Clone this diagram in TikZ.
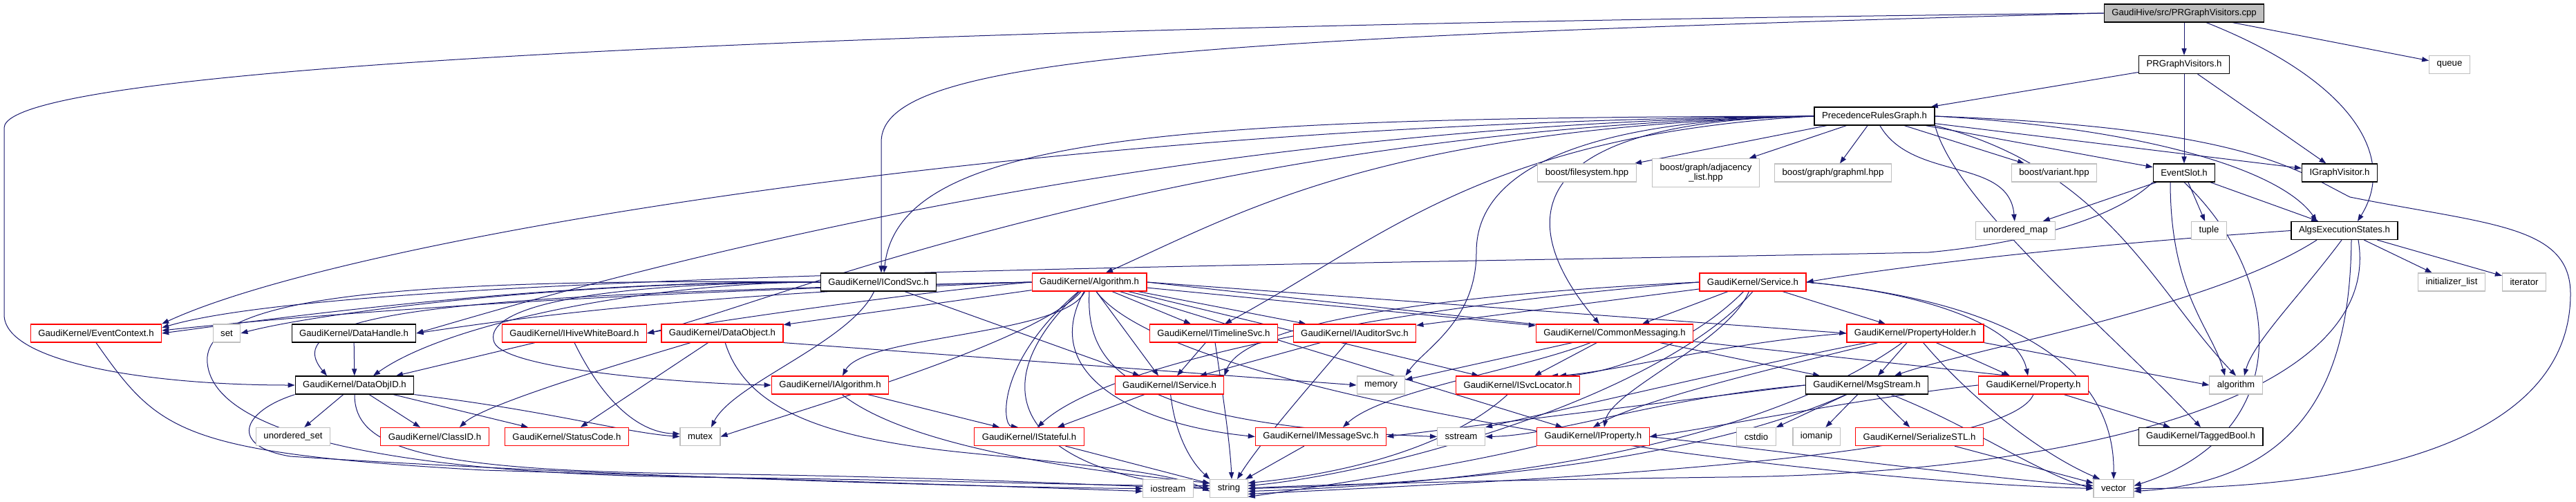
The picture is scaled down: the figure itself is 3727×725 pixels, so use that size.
\documentclass[tikz,border=0pt]{standalone}
\usepackage{fontspec}
\newfontfamily\gf{Liberation Sans}
\usetikzlibrary{arrows.meta,backgrounds}
\definecolor{edgeblue}{HTML}{191970}
\definecolor{extgray}{HTML}{BFBFBF}
\definecolor{mainfill}{HTML}{BFBFBF}
\definecolor{truncred}{HTML}{FF0000}
\tikzset{
 gbox/.style={draw, line width=0.6pt, minimum height=13pt, inner xsep=5.5pt, inner ysep=0pt, font=\gf\fontsize{6.6}{6.6}\selectfont, fill=white, align=center},
 docnode/.style={gbox, draw=black},
 trunc/.style={gbox, draw=truncred},
 extnode/.style={gbox, draw=extgray},
 mainnode/.style={gbox, draw=black, fill=mainfill},
 dep/.style={draw=edgeblue, line width=0.5pt, -{Triangle[length=5pt,width=3.6pt]}},
}
\begin{document}
\begin{tikzpicture}[x=0.5pt,y=0.5pt]
\useasboundingbox (0,0) rectangle (3727,725);
% rank 0-2
\node[mainnode] (cpp) at (3160,706) {GaudiHive/src/PRGraphVisitors.cpp};
\node[docnode] (prgvh) at (3160,631.5) {PRGraphVisitors.h};
\node[extnode] (queue) at (3544,631.5) {queue};
\node[docnode] (prg) at (2712,557) {PrecedenceRulesGraph.h};
% rank 3
\node[extnode] (bfs) at (2296,475) {boost/filesystem.hpp};
\node[extnode, minimum height=20.5pt] (badj) at (2468,475) {boost/graph/adjacency\\\_list.hpp};
\node[extnode] (bgml) at (2652,475) {boost/graph/graphml.hpp};
\node[extnode] (bvar) at (2972,475) {boost/variant.hpp};
\node[docnode] (evslot) at (3160,475) {EventSlot.h};
\node[docnode] (igv) at (3385,475) {IGraphVisitor.h};
% rank 4
\node[extnode] (umap) at (2916,391.5) {unordered\_map};
\node[extnode] (tuple) at (3196,391.5) {tuple};
\node[docnode] (aes) at (3392,391.5) {AlgsExecutionStates.h};
% rank 5
\node[docnode] (icond) at (1271,317) {GaudiKernel/ICondSvc.h};
\node[trunc] (algo) at (1576,317) {GaudiKernel/Algorithm.h};
\node[trunc] (svc) at (2536,317) {GaudiKernel/Service.h};
\node[extnode] (initl) at (3547,317) {initializer\_list};
\node[extnode] (iter) at (3652,317) {iterator};
% rank 6
\node[trunc] (evctx) at (139,243) {GaudiKernel/EventContext.h};
\node[extnode] (set) at (328,243) {set};
\node[docnode] (dhandle) at (512,243) {GaudiKernel/DataHandle.h};
\node[trunc] (ihwb) at (831,243) {GaudiKernel/IHiveWhiteBoard.h};
\node[trunc] (dobj) at (1045,243) {GaudiKernel/DataObject.h};
\node[trunc] (itl) at (1756,243) {GaudiKernel/ITimelineSvc.h};
\node[trunc] (iaud) at (1960,243) {GaudiKernel/IAuditorSvc.h};
\node[trunc] (cmsg) at (2336,243) {GaudiKernel/CommonMessaging.h};
\node[trunc] (pholder) at (2771,243) {GaudiKernel/PropertyHolder.h};
% rank 7
\node[docnode] (doid) at (513,168) {GaudiKernel/DataObjID.h};
\node[trunc] (ialg) at (1201,168) {GaudiKernel/IAlgorithm.h};
\node[trunc] (isvc) at (1692,168) {GaudiKernel/IService.h};
\node[extnode] (memory) at (1998,168) {memory};
\node[trunc] (isl) at (2196,168) {GaudiKernel/ISvcLocator.h};
\node[docnode] (msgs) at (2701,168) {GaudiKernel/MsgStream.h};
\node[trunc] (prop) at (2942,168) {GaudiKernel/Property.h};
\node[extnode] (algm) at (3235,168) {algorithm};
% rank 8
\node[extnode] (uset) at (424,93.5) {unordered\_set};
\node[trunc] (classid) at (629,93.5) {GaudiKernel/ClassID.h};
\node[trunc] (stcode) at (820,93.5) {GaudiKernel/StatusCode.h};
\node[extnode] (mutex) at (1013,93.5) {mutex};
\node[trunc] (istate) at (1489,93.5) {GaudiKernel/IStateful.h};
\node[trunc] (imsg) at (1911,93.5) {GaudiKernel/IMessageSvc.h};
\node[extnode] (sstream) at (2114,93.5) {sstream};
\node[trunc] (iprop) at (2305,93.5) {GaudiKernel/IProperty.h};
\node[extnode] (cstdio) at (2541,93.5) {cstdio};
\node[extnode] (iomanip) at (2628,93.5) {iomanip};
\node[trunc] (sstl) at (2777,93.5) {GaudiKernel/SerializeSTL.h};
\node[docnode] (tbool) at (3184,93.5) {GaudiKernel/TaggedBool.h};
% rank 9
\node[extnode] (iostream) at (1690,18.5) {iostream};
\node[extnode] (string) at (1778,18.5) {string};
\node[extnode] (vector) at (3058,18.5) {vector};

\begin{scope}[on background layer]
\fill[white] (0,0) rectangle (3727,725);
% cpp
\draw[dep] (cpp) -- (prgvh);
\draw[dep] (cpp) -- (queue);
\draw[dep] ([xshift=16pt]cpp.south) .. controls (3400,610) and (3470,500) .. ([xshift=9.5pt]aes.north);
\draw[dep] (cpp.west) .. controls (1500,690) and (6,640) .. (6,540) -- (6,270) .. controls (6,200) and (220,168) .. (doid.west);
\draw[dep] (cpp.west) .. controls (1700,670) and (1275,640) .. (1275,520) -- ([xshift=2pt]icond.north);
% prgvh
\draw[dep] (prgvh) -- (prg);
\draw[dep] (prgvh) -- (evslot);
\draw[dep] (prgvh) -- (igv);
% prg
\draw[dep] (prg) -- (bfs);
\draw[dep] (prg) -- (badj);
\draw[dep] (prg) -- (bgml);
\draw[dep] (prg) -- (bvar);
\draw[dep] (prg) -- (evslot);
\draw[dep] (prg) -- (igv);
\draw[dep] (prg) to[out=-60,in=95] (umap);
\draw[dep] (prg.east) .. controls (3100,540) and (3300,480) .. ([xshift=-20pt]aes.north);
\draw[dep] (prg.south east) .. controls (3050,480) and (3120,300) .. (algm.north);
\draw[dep] (prg.south east) .. controls (2830,430) and (3050,250) .. (tbool.north);
\draw[dep] (prg.east) .. controls (3250,540) and (3320,480) .. (3400,440) .. controls (3600,400) and (3719,400) .. (3719,300) .. controls (3719,80) and (3400,18) .. (vector.east);
\draw[dep] (prg.west) .. controls (1700,555) and (1300,530) .. ([xshift=4pt]icond.north);
\draw[dep] (prg.west) .. controls (2000,540) and (1800,420) .. ([xshift=12pt]algo.north);
\draw[dep] (prg.west) .. controls (2150,530) and (2000,380) .. ([xshift=8pt]itl.north);
\draw[dep] (prg.west) .. controls (2190,550) and (2193,400) .. ([xshift=-11pt]cmsg.north);
\draw[dep] (prg.west) .. controls (2170,550) and (2136,420) .. (2136,360) .. controls (2136,260) and (2060,220) .. (memory.north east);
\draw[dep] (prg.west) .. controls (1500,548) and (500,380) .. (evctx.north east);
\draw[dep] (prg.west) .. controls (1600,545) and (800,300) .. (dhandle.east);
\draw[dep] (prg.west) .. controls (1700,540) and (1100,280) .. (ihwb.east);
% evslot
\draw[dep] (evslot) -- (umap);
\draw[dep] (evslot) -- (tuple);
\draw[dep] (evslot) -- (aes);
\draw[dep] (evslot.south west) .. controls (3050,400) and (2900,370) .. (2790,360) .. controls (1800,340) and (500,330) .. ([yshift=4pt]evctx.east);
\draw[dep] (evslot.south) .. controls (3300,330) and (3330,100) .. ([yshift=2pt]vector.east);
\draw[dep] ([xshift=-10pt]evslot.south) .. controls (3140,300) and (3200,250) .. ([xshift=-8pt]algm.north);
% aes
\draw[dep] (aes) -- (initl);
\draw[dep] (aes) -- (iter);
\draw[dep] (aes.west) .. controls (3000,370) and (2750,340) .. (svc.east);
\draw[dep] ([xshift=-20pt]aes.south) .. controls (3200,280) and (2850,220) .. ([xshift=20pt]msgs.north);
\draw[dep] ([xshift=-2pt]aes.south) .. controls (3330,300) and (3260,230) .. ([xshift=6pt]algm.north);
\draw[dep] ([xshift=5pt]aes.south) .. controls (3400,200) and (3350,30) .. ([yshift=-2pt]vector.east);
\draw[dep] ([xshift=10pt]aes.south) .. controls (3450,150) and (3000,40) .. (2500,35) .. controls (2100,30) and (1850,22) .. (string.east);
% icond
\draw[dep] (icond.west) .. controls (800,320) and (400,265) .. (evctx.east);
\draw[dep] (icond.west) .. controls (800,318) and (450,270) .. (set.east);
\draw[dep] (icond.west) .. controls (950,317) and (650,260) .. ([xshift=13.5pt]doid.north);
\draw[dep] (icond.west) .. controls (800,315) and (700,270) .. (715,230) .. controls (730,190) and (1000,170) .. (ialg.west);
\draw[dep] (icond) -- ([xshift=-21.5pt]isvc.north);
\draw[dep] (icond) .. controls (1230,230) and (1060,170) .. ([xshift=8pt]mutex.north);
\draw[dep] (icond.west) .. controls (600,322) and (290,300) .. (300,200) .. controls (310,90) and (600,40) .. (1000,35) .. controls (1400,30) and (1600,22) .. ([yshift=2pt]string.west);
% algo
\draw[dep] (algo.west) .. controls (900,305) and (450,270) .. ([yshift=2pt]evctx.east);
\draw[dep] (algo.west) .. controls (1000,300) and (750,265) .. (dhandle.east);
\draw[dep] (algo.west) .. controls (1300,300) and (1000,255) .. (ihwb.east);
\draw[dep] (algo) -- (dobj);
\draw[dep] (algo.west) .. controls (700,300) and (390,280) .. ([xshift=-20pt]doid.north);
\draw[dep] (algo) .. controls (1540,240) and (1250,240) .. ([xshift=9pt]ialg.north);
\draw[dep] (algo) -- ([xshift=-8pt]isvc.north);
\draw[dep] (algo) -- (itl);
\draw[dep] (algo) -- (iaud);
\draw[dep] (algo) -- (cmsg);
\draw[dep] (algo.east) -- (pholder.west);
\draw[dep] (algo.east) -- ([xshift=-18pt]prop.north);
\draw[dep] (algo) -- (iprop);
\draw[dep] (algo) -- (isl);
\draw[dep] (algo) .. controls (1500,180) and (1650,110) .. (imsg.west);
\draw[dep] (algo) .. controls (1500,230) and (1150,130) .. (mutex.east);
\draw[dep] (algo) .. controls (1440,200) and (1450,110) .. ([xshift=-8pt]istate.north);
\draw[dep] (algo.south) .. controls (1571,200) and (1620,110) .. (sstream.west);
\draw[dep] (algo) .. controls (1400,150) and (1500,40) .. (string.west);
\draw[dep] (algo) .. controls (1700,150) and (2600,30) .. (vector.west);
% svc
\draw[dep] (svc.west) .. controls (2100,300) and (1800,260) .. (isvc.north east);
\draw[dep] (svc) -- (iaud);
\draw[dep] (svc) -- ([xshift=20pt]cmsg.north);
\draw[dep] (svc) -- (pholder);
\draw[dep] (svc) .. controls (2500,230) and (2330,160) .. ([xshift=8pt]iprop.north);
\draw[dep] (svc.east) .. controls (2800,300) and (2920,250) .. ([xshift=-4pt]prop.north);
\draw[dep] (svc) .. controls (2450,230) and (2330,180) .. ([xshift=24pt]isl.north);
\draw[dep] (svc.west) .. controls (2000,280) and (1600,200) .. ([xshift=6pt]istate.north);
\draw[dep] (svc.east) .. controls (2900,290) and (3060,200) .. (vector.north);
\draw[dep] (svc.south) .. controls (2400,150) and (2000,40) .. ([yshift=2pt]string.east);
% pholder
\draw[dep] (pholder) -- ([xshift=8pt]msgs.north);
\draw[dep] (pholder) -- ([xshift=-17pt]prop.north);
\draw[dep] (pholder) .. controls (2600,200) and (2380,150) .. ([xshift=0pt]iprop.north);
\draw[dep] (pholder.west) .. controls (2500,230) and (2350,190) .. ([xshift=30pt]isl.north);
\draw[dep] (pholder.south east) -- (algm.west);
\draw[dep] (pholder) .. controls (2850,150) and (2950,70) .. ([xshift=-10pt]vector.north);
\draw[dep] (pholder) .. controls (2550,200) and (2250,130) .. (sstream.north east);
\draw[dep] (pholder) .. controls (2600,120) and (2300,30) .. ([yshift=-2pt]string.east);
% msgs
\draw[dep] (msgs.west) -- (imsg.east);
\draw[dep] (msgs.west) .. controls (2400,150) and (2250,95) .. (sstream.east);
\draw[dep] (msgs) -- (cstdio);
\draw[dep] (msgs) -- (iomanip);
\draw[dep] (msgs) -- (sstl);
\draw[dep] (msgs) .. controls (2550,100) and (2300,30) .. (string.east);
\draw[dep] (msgs) .. controls (2850,110) and (2950,40) .. (vector.west);
% prop
\draw[dep] (prop.west) .. controls (2700,150) and (2500,110) .. (iprop.east);
\draw[dep] (prop) -- (tbool);
\draw[dep] (prop.south) .. controls (2900,60) and (2200,30) .. ([yshift=-4pt]string.east);
% cmsg
\draw[dep] (cmsg) .. controls (2200,190) and (2000,160) .. ([xshift=16pt]imsg.north);
\draw[dep] (cmsg) -- (memory);
\draw[dep] (cmsg) -- ([xshift=12pt]isl.north);
\draw[dep] (cmsg) -- ([xshift=-34pt]msgs.north);
% others
\draw[dep] (iaud) -- ([xshift=22pt]isvc.north);
\draw[dep] (iaud) .. controls (1880,150) and (1820,80) .. ([xshift=6pt]string.north);
\draw[dep] (itl) -- ([xshift=5.5pt]isvc.north);
\draw[dep] (itl) .. controls (1770,150) and (1780,80) .. ([xshift=2pt]string.north);
\draw[dep] (isvc) -- ([xshift=20.5pt]istate.north);
\draw[dep] (isvc) .. controls (1700,100) and (1720,60) .. (string.north west);
\draw[dep] (ialg) -- ([xshift=-21.5pt]istate.north);
\draw[dep] (ialg) .. controls (1300,90) and (1500,50) .. ([yshift=4pt]string.west);
\draw[dep] (istate) -- (string);
\draw[dep] (imsg) -- (string);
\draw[dep] (isl) .. controls (2100,80) and (1950,40) .. ([yshift=4pt]string.east);
\draw[dep] (iprop.south west) .. controls (2100,50) and (1900,20) .. ([yshift=-6pt]string.east);
\draw[dep] (iprop.east) .. controls (2600,70) and (2900,30) .. ([yshift=2pt]vector.west);
\draw[dep] (sstl) -- (vector);
\draw[dep] (doid) -- (uset);
\draw[dep] (doid) -- (classid);
\draw[dep] (doid) -- (stcode);
\draw[dep] (doid.south east) .. controls (800,130) and (900,100) .. (mutex.west);
\draw[dep] (doid.south) .. controls (513,80) and (600,45) .. (1000,40) .. controls (1400,35) and (1600,22) .. (string.west);
\draw[dep] (doid.south west) .. controls (350,130) and (330,80) .. (420,65) .. controls (800,40) and (1400,20) .. (iostream.west);
\draw[dep] (dobj) .. controls (900,200) and (700,140) .. ([xshift=18pt]classid.north);
\draw[dep] (dobj) -- ([xshift=10pt]stcode.north);
\draw[dep] (dobj) .. controls (1080,130) and (1200,90) .. (1400,70) .. controls (1600,50) and (1700,40) .. ([yshift=-2pt]string.west);
\draw[dep] (dobj.south east) -- (memory.west);
\draw[dep] (ihwb) -- ([xshift=30pt]doid.north);
\draw[dep] (ihwb.south) .. controls (870,150) and (920,100) .. ([yshift=2pt]mutex.west);
\draw[dep] (dhandle) -- (doid);
\draw[dep] (evctx.south) .. controls (230,100) and (260,70) .. (700,45) .. controls (1200,30) and (1500,20) .. ([yshift=-2pt]iostream.west);
\end{scope}
\end{tikzpicture}
\end{document}
